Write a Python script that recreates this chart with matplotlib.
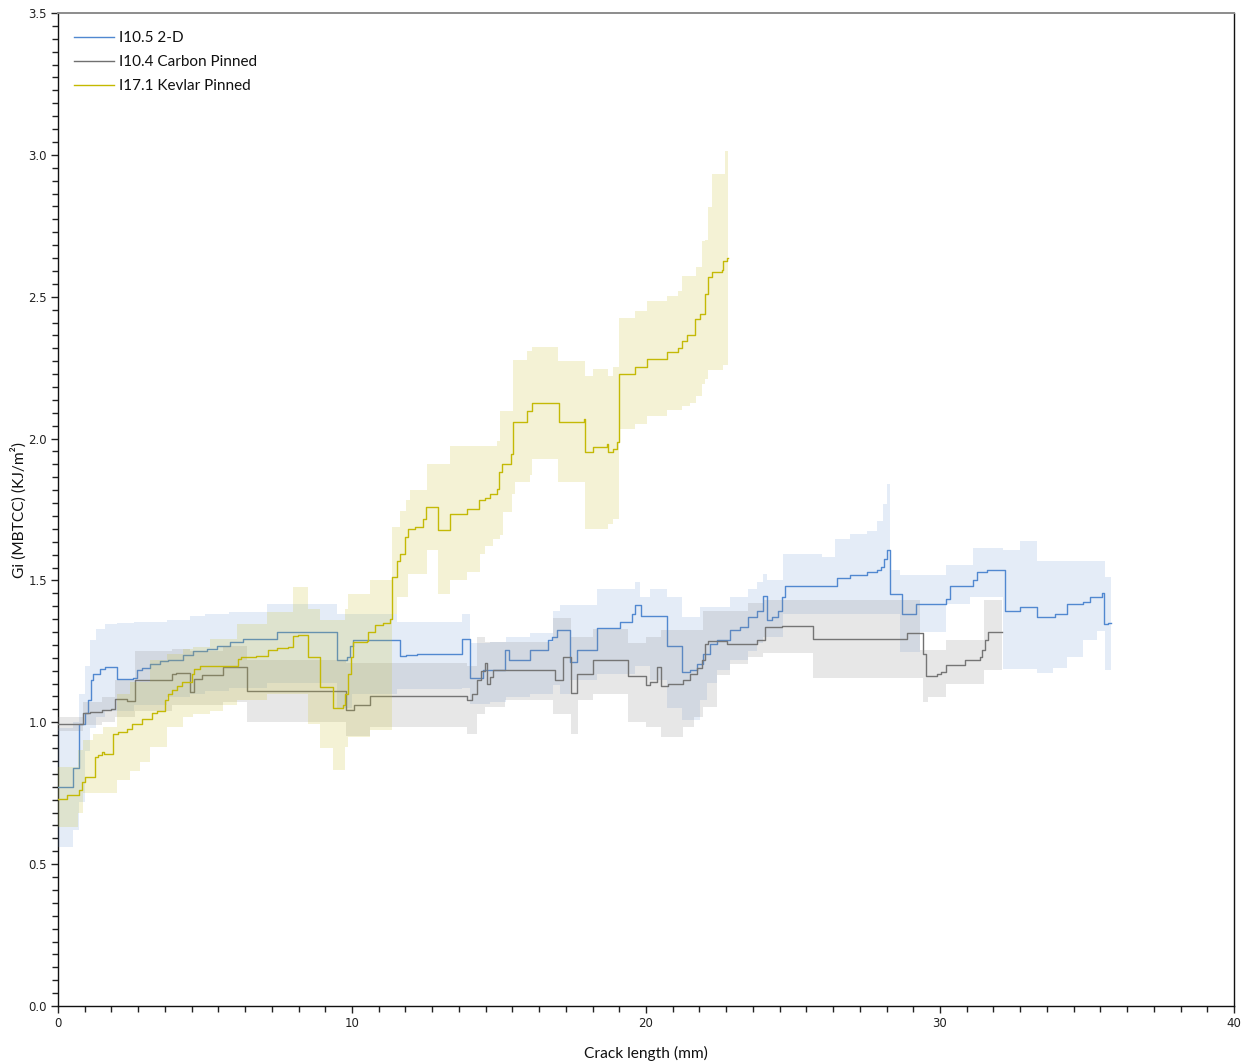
import matplotlib
matplotlib.use("Agg")
import matplotlib.pyplot as plt
from matplotlib.ticker import AutoMinorLocator
import numpy as np

# ---------------- data ----------------
labels = ["I10.5 2-D", "I10.4 Carbon Pinned", "I17.1 Kevlar Pinned"]

blue_x = [0.0, 0.52, 0.73, 0.92, 1.03, 1.11, 1.20, 1.43, 1.60, 1.99, 2.56, 2.68, 2.85, 3.13, 3.47, 3.75,
          4.26, 4.60, 5.06, 5.40, 5.85, 6.30, 7.44, 9.50, 9.82, 9.93, 10.04, 11.63, 11.85, 12.2, 13.73,
          14.01, 14.47, 15.20, 15.34, 16.05, 16.68, 16.80, 16.96, 17.41, 17.64, 18.32, 19.12, 19.51,
          19.63, 19.82, 20.70, 21.21, 21.50, 21.72, 21.95, 22.17, 22.40, 22.86, 23.20, 23.48, 23.76,
          23.99, 24.10, 24.30, 24.50, 24.61, 24.73, 25.97, 26.49, 26.94, 27.50, 27.85, 28.00, 28.10,
          28.21, 28.30, 28.72, 29.20, 30.22, 30.34, 31.13, 31.25, 31.59, 32.21, 32.72, 33.29, 33.91,
          34.31, 34.87, 35.10, 35.50, 35.58, 35.72, 35.81]
blue_y = [0.772, 0.840, 0.995, 1.031, 1.077, 1.148, 1.171, 1.189, 1.195, 1.154, 1.157, 1.183, 1.193, 1.204,
          1.216, 1.221, 1.236, 1.251, 1.259, 1.268, 1.282, 1.292, 1.319, 1.218, 1.230, 1.268, 1.289, 1.232,
          1.236, 1.240, 1.295, 1.157, 1.183, 1.254, 1.218, 1.256, 1.289, 1.300, 1.327, 1.212, 1.254, 1.332,
          1.353, 1.383, 1.412, 1.374, 1.268, 1.177, 1.185, 1.207, 1.242, 1.277, 1.291, 1.324, 1.336, 1.371,
          1.394, 1.444, 1.359, 1.371, 1.394, 1.441, 1.482, 1.479, 1.509, 1.518, 1.529, 1.535, 1.547, 1.576,
          1.606, 1.453, 1.380, 1.418, 1.435, 1.482, 1.500, 1.529, 1.535, 1.394, 1.408, 1.371, 1.380, 1.418,
          1.424, 1.441, 1.455, 1.347, 1.350, 1.350]

blue_band_x = [0.0, 0.52, 0.73, 0.92, 1.10, 1.30, 1.60, 2.0, 2.6, 3.7, 4.5, 5.0, 5.8, 7.1, 9.48, 10.0, 11.52,
               13.73, 14.01, 14.69, 15.25, 16.05, 16.85, 17.07, 17.41, 18.32, 19.63, 19.80, 20.14, 20.70,
               21.21, 21.84, 22.06, 22.40, 22.86, 23.48, 23.76, 23.99, 24.10, 24.67, 25.97, 26.43, 26.94,
               27.50, 27.85, 28.07, 28.21, 28.30, 28.64, 29.32, 30.22, 31.02, 31.13, 32.15, 32.72, 33.29,
               33.85, 34.31, 34.87, 35.33, 35.61, 35.81]
blue_band_lo = [0.56, 0.62, 0.72, 0.90, 0.98, 1.02, 1.04, 1.04, 1.06, 1.09, 1.10, 1.11, 1.12, 1.14, 1.05, 1.10,
                1.118, 1.12, 1.066, 1.07, 1.089, 1.10, 1.13, 1.10, 1.15, 1.17, 1.20, 1.20, 1.15, 1.05, 1.007,
                1.077, 1.137, 1.183, 1.22, 1.25, 1.28, 1.30, 1.30, 1.383, 1.383, 1.383, 1.383, 1.383, 1.383,
                1.383, 1.383, 1.383, 1.248, 1.318, 1.418, 1.441, 1.441, 1.189, 1.189, 1.175, 1.19, 1.23, 1.289,
                1.32, 1.183, 1.183]
blue_band_hi = [0.98, 1.00, 1.10, 1.20, 1.29, 1.33, 1.345, 1.35, 1.355, 1.36, 1.375, 1.38, 1.39, 1.418, 1.38,
                1.38, 1.353, 1.38, 1.28, 1.283, 1.30, 1.314, 1.394, 1.412, 1.412, 1.471, 1.494, 1.441, 1.471,
                1.441, 1.371, 1.406, 1.406, 1.406, 1.441, 1.471, 1.494, 1.524, 1.50, 1.594, 1.584, 1.647, 1.664,
                1.675, 1.711, 1.77, 1.84, 1.535, 1.518, 1.518, 1.553, 1.553, 1.616, 1.606, 1.638, 1.570, 1.570,
                1.570, 1.570, 1.570, 1.512, 1.512]

gray_x = [0.0, 0.86, 1.1, 1.5, 1.8, 1.94, 2.34, 2.62, 3.87, 4.0, 4.49, 4.63, 4.9, 5.3, 5.62, 6.42, 9.80, 10.06,
          10.61, 13.90, 14.08, 14.24, 14.40, 14.52, 14.60, 14.70, 14.78, 16.90, 17.19, 17.44, 17.64, 18.21,
          19.40, 20.00, 20.14, 20.36, 20.51, 20.76, 21.27, 21.50, 21.72, 21.89, 22.00, 22.11, 22.74, 23.76,
          24.05, 24.61, 25.69, 28.87, 29.43, 29.52, 29.90, 30.05, 30.22, 30.85, 31.36, 31.42, 31.53, 31.64,
          32.12]
gray_y = [0.995, 1.031, 1.037, 1.042, 1.048, 1.083, 1.075, 1.148, 1.171, 1.175, 1.107, 1.154, 1.167, 1.167,
          1.195, 1.110, 1.042, 1.060, 1.092, 1.077, 1.100, 1.148, 1.180, 1.209, 1.136, 1.160, 1.183, 1.150,
          1.230, 1.103, 1.171, 1.218, 1.162, 1.133, 1.142, 1.195, 1.127, 1.136, 1.148, 1.169, 1.190, 1.218,
          1.277, 1.286, 1.277, 1.290, 1.336, 1.339, 1.292, 1.316, 1.242, 1.162, 1.169, 1.176, 1.202, 1.221,
          1.229, 1.254, 1.289, 1.318, 1.318]

gray_band_x = [0.0, 0.86, 1.5, 1.94, 2.62, 3.87, 4.49, 5.62, 6.42, 9.80, 10.61, 13.90, 14.24, 14.52, 15.20,
               16.85, 17.44, 17.70, 18.21, 19.40, 20.0, 20.50, 21.27, 21.62, 21.95, 22.40, 22.86, 23.48, 23.99,
               25.69, 29.32, 29.43, 29.6, 30.22, 31.48, 32.12]
gray_band_lo = [0.97, 0.99, 1.00, 1.02, 1.04, 1.06, 1.06, 1.07, 1.00, 0.95, 0.983, 0.96, 1.03, 1.054, 1.077,
                1.03, 0.96, 1.08, 1.10, 1.00, 0.983, 0.948, 0.983, 1.019, 1.055, 1.165, 1.207, 1.23, 1.244,
                1.157, 1.157, 1.071, 1.089, 1.136, 1.183, 1.183]
gray_band_hi = [1.02, 1.07, 1.09, 1.15, 1.25, 1.26, 1.25, 1.27, 1.22, 1.21, 1.209, 1.20, 1.30, 1.283, 1.283,
                1.366, 1.30, 1.30, 1.33, 1.28, 1.30, 1.324, 1.324, 1.324, 1.394, 1.394, 1.394, 1.42, 1.432,
                1.432, 1.254, 1.254, 1.254, 1.289, 1.432, 1.432]

yellow_x = [0.0, 0.30, 0.73, 0.80, 0.92, 1.25, 1.35, 1.48, 1.55, 1.88, 2.05, 2.34, 2.51, 2.85, 3.19, 3.36,
            3.64, 3.75, 3.87, 4.04, 4.21, 4.55, 4.63, 4.83, 5.62, 6.13, 6.24, 6.74, 7.15, 7.44, 7.83, 8.00,
            8.17, 8.51, 8.91, 9.34, 9.70, 9.76, 9.88, 9.95, 10.05, 10.50, 10.56, 10.79, 11.07, 11.29, 11.35,
            11.52, 11.63, 11.80, 11.92, 12.14, 12.43, 12.52, 12.94, 13.33, 13.92, 14.33, 14.52, 14.69, 14.92,
            15.01, 15.10, 15.41, 15.49, 15.94, 16.11, 17.02, 17.05, 17.89, 17.93, 18.21, 18.66, 18.72, 18.89,
            19.00, 19.09, 19.63, 20.02, 20.70, 21.10, 21.21, 21.40, 21.67, 21.85, 22.01, 22.12, 22.23, 22.57,
            22.63, 22.74, 22.80]
yellow_y = [0.731, 0.742, 0.760, 0.790, 0.806, 0.878, 0.885, 0.895, 0.888, 0.960, 0.966, 0.978, 0.995, 1.013,
            1.031, 1.040, 1.077, 1.100, 1.113, 1.127, 1.142, 1.171, 1.189, 1.197, 1.200, 1.224, 1.230, 1.233,
            1.254, 1.263, 1.266, 1.303, 1.306, 1.230, 1.125, 1.052, 1.060, 1.100, 1.171, 1.230, 1.283, 1.285,
            1.318, 1.342, 1.350, 1.365, 1.512, 1.570, 1.594, 1.652, 1.682, 1.690, 1.717, 1.758, 1.678, 1.734,
            1.752, 1.782, 1.790, 1.805, 1.822, 1.882, 1.910, 1.946, 2.057, 2.096, 2.124, 2.126, 2.057, 2.069,
            1.952, 1.972, 1.980, 1.952, 1.965, 1.987, 2.228, 2.251, 2.280, 2.304, 2.319, 2.345, 2.364, 2.421,
            2.439, 2.509, 2.570, 2.586, 2.593, 2.627, 2.636, 2.636]

yellow_band_x = [0.0, 0.69, 0.86, 1.20, 1.54, 1.99, 2.45, 2.79, 3.13, 3.70, 4.26, 4.60, 5.17, 5.62, 6.08, 7.10,
                 8.01, 8.51, 8.91, 9.34, 9.76, 9.87, 10.61, 11.35, 11.52, 11.63, 11.84, 11.92, 11.97, 12.54,
                 12.94, 13.33, 13.90, 14.35, 14.52, 14.81, 14.92, 15.03, 15.15, 15.43, 15.49, 15.54, 15.94,
                 16.05, 16.11, 17.02, 17.93, 18.21, 18.72, 18.89, 19.09, 19.63, 20.02, 20.70, 21.10, 21.21,
                 21.48, 21.70, 21.89, 22.01, 22.12, 22.23, 22.63, 22.69, 22.80]
yellow_band_lo = [0.631, 0.679, 0.749, 0.749, 0.749, 0.796, 0.83, 0.86, 0.913, 0.983, 1.02, 1.03, 1.04, 1.06,
                  1.08, 1.10, 1.10, 0.995, 0.908, 0.831, 0.913, 0.948, 0.972, 1.38, 1.441, 1.441, 1.441, 1.524,
                  1.524, 1.606, 1.453, 1.50, 1.529, 1.594, 1.62, 1.647, 1.647, 1.66, 1.741, 1.805, 1.805, 1.846,
                  1.846, 1.87, 1.929, 1.846, 1.682, 1.682, 1.70, 1.717, 2.034, 2.051, 2.081, 2.10, 2.10, 2.116,
                  2.125, 2.151, 2.193, 2.21, 2.242, 2.242, 2.261, 2.261, 2.261]
yellow_band_hi = [0.843, 0.901, 0.937, 0.96, 0.983, 1.101, 1.142, 1.142, 1.218, 1.239, 1.259, 1.265, 1.295,
                  1.295, 1.348, 1.389, 1.476, 1.40, 1.36, 1.36, 1.40, 1.453, 1.50, 1.688, 1.688, 1.746, 1.782,
                  1.782, 1.817, 1.911, 1.911, 1.975, 1.975, 1.975, 1.975, 1.975, 1.99, 2.096, 2.096, 2.096,
                  2.277, 2.277, 2.310, 2.310, 2.321, 2.272, 2.222, 2.245, 2.222, 2.251, 2.424, 2.451, 2.486,
                  2.504, 2.52, 2.574, 2.574, 2.603, 2.697, 2.70, 2.817, 2.932, 2.932, 3.012, 3.012]

x_major = [0, 10, 20, 30, 40]
y_major = [0.0, 0.5, 1.0, 1.5, 2.0, 2.5, 3.0, 3.5]

# ---------------- plot ----------------
W, H, DPI = 1247, 1063, 100
fig = plt.figure(figsize=(W / DPI, H / DPI), dpi=DPI)
AX_L, AX_R, AX_T, AX_B = 58, 1234, 13, 1006
ax = fig.add_axes([AX_L / W, 1 - AX_B / H, (AX_R - AX_L) / W, (AX_B - AX_T) / H])

series = [
    (blue_x, blue_y, blue_band_x, blue_band_lo, blue_band_hi, "#5088D0", "#5B8BD0", 0.16),
    (gray_x, gray_y, gray_band_x, gray_band_lo, gray_band_hi, "#707070", "#8A8A8A", 0.20),
    (yellow_x, yellow_y, yellow_band_x, yellow_band_lo, yellow_band_hi, "#C4B900", "#C8BE20", 0.19),
]
z = 2
for (lx, ly, bx, blo, bhi, lc, bc, a), lab in zip(series, labels):
    ax.plot(lx, ly, drawstyle="steps-post", color=lc, lw=1.0, zorder=z + 1, label=lab)
    ax.fill_between(bx, blo, bhi, step="post", color=bc, alpha=a, lw=0, zorder=z + 2)
    z += 2

ax.set_xlim(0, 40)
ax.set_ylim(0, 3.5)
ax.xaxis.set_minor_locator(AutoMinorLocator(11))
ax.yaxis.set_minor_locator(AutoMinorLocator(11))
ax.set_xticks(x_major)
ax.set_xticklabels([str(v) for v in x_major])
ax.set_yticks(y_major)
ax.set_yticklabels([f"{v:.1f}" for v in y_major])

ax.tick_params(axis="both", which="major", direction="out", length=5, width=1, color="#222222",
               labelsize=8.5, labelcolor="#222222", pad=3)
ax.tick_params(axis="both", which="minor", direction="out", length=4, width=1, color="#222222")
for lbl in ax.get_xticklabels() + ax.get_yticklabels():
    lbl.set_family("DejaVu Sans")

for s in ("left", "bottom", "right"):
    ax.spines[s].set_color("#111111")
    ax.spines[s].set_linewidth(1.0)
ax.spines["top"].set_color("#8c8c8c")
ax.spines["top"].set_linewidth(1.4)

ax.set_xlabel("Crack length (mm)", family="Lato", fontsize=11.2, color="#111111")
ax.xaxis.set_label_coords(0.5, (AX_B - 1046) / (AX_B - AX_T))
ax.set_ylabel("Gi (MBTCC) (KJ/m²)", family="Lato", fontsize=11.2, color="#111111")
ax.yaxis.set_label_coords((27 - AX_L) / (AX_R - AX_L), 0.5)

leg = ax.legend(loc="upper left", bbox_to_anchor=(16 / 1176, 1 - 18 / 993), frameon=False,
                prop={"family": "Lato", "size": 11}, handlelength=2.65, handletextpad=0.3,
                labelspacing=0.65, borderaxespad=0, borderpad=0)
for t in leg.get_texts():
    t.set_color("#111111")

fig.savefig("out.png", dpi=DPI, facecolor="white")
